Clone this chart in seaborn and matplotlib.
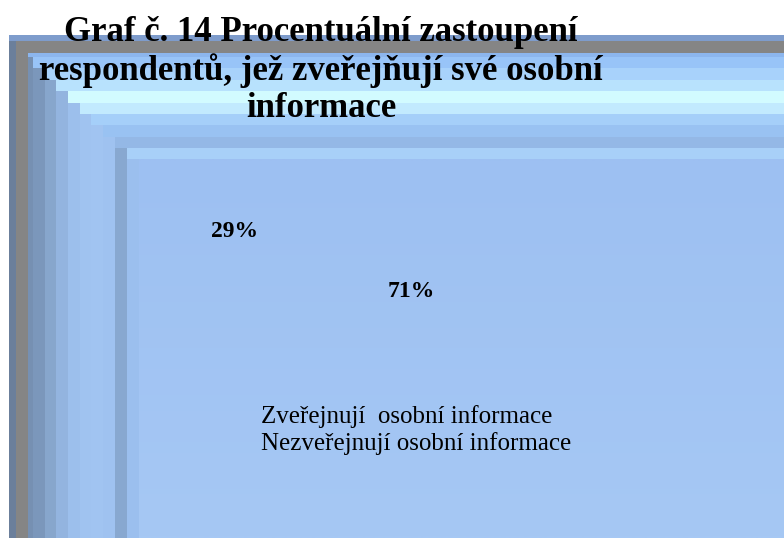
import numpy as np
import matplotlib
matplotlib.use('Agg')
import matplotlib.pyplot as plt
from matplotlib.patches import Rectangle
from matplotlib.colors import to_rgb
import seaborn as sns

sns.set_theme(style='white')
plt.rcParams['font.family'] = ['Liberation Serif', 'DejaVu Serif']
plt.rcParams['text.color'] = 'black'

categories = ['Zveřejnují  osobní informace', 'Nezveřejnují osobní informace']
shares = [29, 71]
title = 'Graf č. 14 Procentuální zastoupení\nrespondentů, jež zveřejňují své osobní\ninformace'

W, H = 784, 538

# nested frame bands (pixel corners), top strip colour and left strip colour per level
band_x = [9, 16, 28, 33, 45, 56, 68, 80, 91, 103, 115, 127, 139]
band_y = [35, 41, 53, 57, 68, 80, 91, 103, 114, 125, 137, 148, 159]
top_cols = ['#7e9ccc', '#858585', '#8cb6ee', '#98c4f8', '#a8d2fb', '#b8e2fd',
            '#d2fbff', '#c2eafe', '#a5cff9', '#99c2f2', '#94b8e6', '#a8d0f8']
left_cols = ['#6b7f9b', '#858585', '#7690b2', '#7b97bb', '#87a6cc', '#93b4df',
             '#9cbfec', '#a0c3f0', '#a1c4f1', '#9fc2f0', '#88a8d0', '#9bbfee']

fig = plt.figure(figsize=(W / 100, H / 100), dpi=100)
fig.patch.set_facecolor('white')

bg = fig.add_axes([0, 0, 1, 1], zorder=0)
bg.axis('off')
for i in range(len(top_cols)):
    bg.add_patch(Rectangle((band_x[i], band_y[i]), W - band_x[i], band_y[i + 1] - band_y[i],
                           color=top_cols[i], lw=0))
    bg.add_patch(Rectangle((band_x[i], band_y[i + 1]), band_x[i + 1] - band_x[i], H - band_y[i + 1],
                           color=left_cols[i], lw=0))

c0, c1 = np.array(to_rgb('#9dc0f2')), np.array(to_rgb('#a6c8f4'))
t = np.linspace(0, 1, 100)[:, None, None]
grad = c0 * (1 - t) + c1 * t
bg.imshow(grad, extent=(band_x[-1], W, H, band_y[-1]), aspect='auto', interpolation='bilinear')
bg.set_xlim(0, W)
bg.set_ylim(H, 0)

# pie axes, wedges left invisible as in the original export
cx, cy, R = 323.25, H - 261.25, 155.8
ax = fig.add_axes([(cx - R) / W, (cy - R) / H, 2 * R / W, 2 * R / H], zorder=1)
ax.patch.set_alpha(0)
wedges, _, autotexts = ax.pie(shares, startangle=109, pctdistance=0.6, radius=1,
                              autopct='%.0f%%', wedgeprops={'alpha': 0},
                              textprops={'fontsize': 17, 'fontweight': 'bold', 'color': 'black'})
ax.set_xlim(-1, 1)
ax.set_ylim(-1, 1)

leg = ax.legend(wedges, categories, loc='upper left', bbox_to_anchor=(261 / W, 1 - 405 / H),
                bbox_transform=fig.transFigure, frameon=False, handlelength=0, handletextpad=0,
                borderpad=0, borderaxespad=0, labelspacing=0.18, prop={'size': 18})
for txt in leg.get_texts():
    txt.set_color('black')

fig.text(321 / W, 1 - 16 / H, title, ha='center', va='top', fontsize=25, fontweight='bold',
         color='black', linespacing=1.15, multialignment='center', zorder=5)

fig.savefig('out.png', dpi=100)
plt.close(fig)
